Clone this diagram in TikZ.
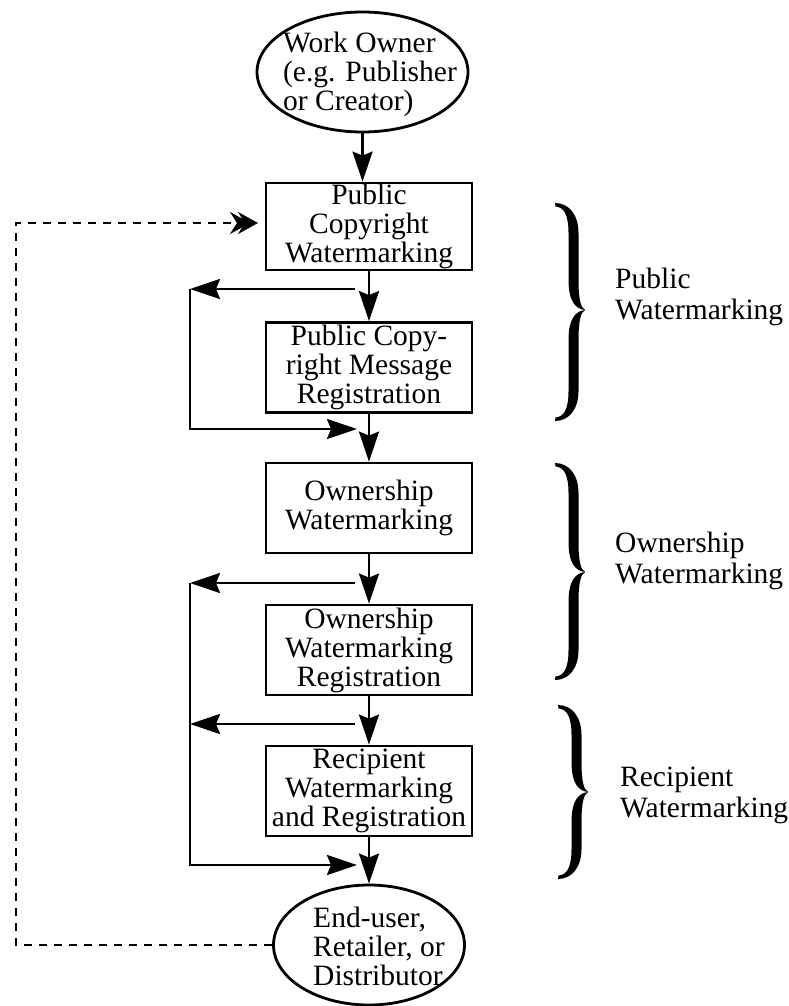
\documentclass[tikz,border=0pt]{standalone}
\usepackage{fontspec}
\setmainfont{Liberation Serif}
\usetikzlibrary{arrows.meta,shapes.geometric}
\newcommand\mybrace[4]{% #1 x0, #2 y0, #3 ymid, #4 y1
 \fill (#1,#2) .. controls ({#1+14},{#2}) and ({#1+23.5},{#2+12}) .. ({#1+23.5},{#2+30})
  -- ({#1+23.5},{#3-30}) .. controls ({#1+23.5},{#3-10}) and ({#1+26},{#3-2}) .. ({#1+30},{#3})
  .. controls ({#1+26},{#3+2}) and ({#1+23.5},{#3+10}) .. ({#1+23.5},{#3+30})
  -- ({#1+23.5},{#4-30}) .. controls ({#1+23.5},{#4-12}) and ({#1+14},{#4}) .. (#1,#4)
  -- ({#1+0.5},{#4-3.5}) .. controls ({#1+9},{#4-4}) and ({#1+13.5},{#4-12}) .. ({#1+13.5},{#4-30})
  -- ({#1+13.5},{#3+30}) .. controls ({#1+13.5},{#3+8}) and ({#1+21},{#3+1}) .. ({#1+30},{#3})
  .. controls ({#1+21},{#3-1}) and ({#1+13.5},{#3-8}) .. ({#1+13.5},{#3-30})
  -- ({#1+13.5},{#2+30}) .. controls ({#1+13.5},{#2+12}) and ({#1+9},{#2+4}) .. ({#1+0.5},{#2+3.5}) -- cycle;}
\begin{document}
\begin{tikzpicture}[x=1pt,y=-1pt,
  every node/.style={font=\fontsize{29.5}{29}\selectfont},
  box/.style={draw, line width=2.8pt, minimum width=206pt, minimum height=90pt, inner sep=0pt, align=center},
  oval/.style={draw, ellipse, line width=2.8pt, inner sep=0pt},
  txt/.style={align=left, inner sep=0pt},
  lbl/.style={align=left, inner sep=0pt, font=\fontsize{29.5}{31}\selectfont},
  conn/.style={line width=2.8pt},
  arr/.style={conn, -{Stealth[length=30pt,width=20pt,inset=4pt]}},
  dashline/.style={line width=2.8pt, dash pattern=on 8pt off 7pt},
  dashtip/.style={-{Stealth[length=20pt,width=22pt,inset=7pt,sep=-12pt]Stealth[length=20pt,width=22pt,inset=7pt]}}
]
\useasboundingbox (0,0) rectangle (789,1006);

% ellipses
\node[oval, minimum width=211pt, minimum height=120pt] (owner) at (362.5,72) {};
\node[txt] (ownertxt) at (370,74) {Work Owner\\(e.g. Publisher\\or Creator)};
\node[oval, minimum width=191pt, minimum height=120pt] (user) at (369,945) {};
\node[txt] (usertxt) at (379,946) {End-user,\\Retailer, or\\Distributor};

% boxes
\node[box, minimum height=87pt] (pub) at (369,226.5) {Public\\Copyright\\Watermarking};
\node[box] (pcr) at (369,367.5) {Public Copy-\\right Message\\Registration};
\node[box] (own) at (369,508) {Ownership\\Watermarking};
\node[box] (owr) at (369,650) {Ownership\\Watermarking\\Registration};
\node[box] (rec) at (369,791) {Recipient\\Watermarking\\and Registration};

% main flow
\draw[arr] (owner.south) -- (owner.south |- pub.north);
\draw[arr] (pub) -- (pcr);
\draw[arr] (pcr) -- (own);
\draw[arr] (own) -- (owr);
\draw[arr] (owr) -- (rec);
\draw[arr] (rec) -- (user);

% feedback loops
\coordinate (a1) at (355,289); \coordinate (a2) at (190,289);
\coordinate (a3) at (190,429); \coordinate (a4) at (357,429);
\draw[arr] (a1) -- (a2);
\draw[arr] (a2) -- (a3) -- (a4);

\coordinate (b1) at (355,583); \coordinate (b2) at (190,583);
\coordinate (c1) at (355,724); \coordinate (c2) at (190,724);
\coordinate (b3) at (190,865); \coordinate (b4) at (357,865);
\draw[arr] (b1) -- (b2);
\draw[arr] (c1) -- (c2);
\draw[arr] (b2) -- (b3) -- (b4);

% dashed return
\coordinate (d2) at (16,223); \coordinate (dt) at (258,223);
\draw[dashline, dashtip] (user.west) -| (d2) -- (dt);

% braces
\mybrace{555}{203}{310}{421}
\mybrace{555}{463}{572}{680}
\mybrace{558}{705}{792}{879}

% labels
\node[lbl, anchor=west] (lpub) at (615,297) {Public\\Watermarking};
\node[lbl, anchor=west] (lown) at (615,561) {Ownership\\Watermarking};
\node[lbl, anchor=west] (lrec) at (620,795) {Recipient\\Watermarking};
\end{tikzpicture}
\end{document}
